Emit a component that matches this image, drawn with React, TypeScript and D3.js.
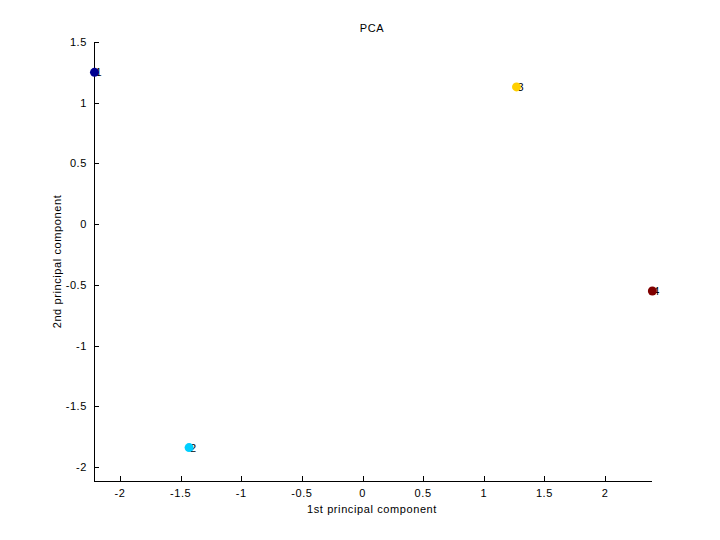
import React from "react";
import * as d3 from "d3";

const labels = ["1", "2", "3", "4"];
const pc1 = [-2.21, -1.43, 1.27, 2.39];
const pc2 = [1.25, -1.84, 1.13, -0.55];
const colors = ["#000090", "#00CFFF", "#FFCF00", "#800000"];
const xTicks = [-2, -1.5, -1, -0.5, 0, 0.5, 1, 1.5, 2];
const yTicks = [-2, -1.5, -1, -0.5, 0, 0.5, 1, 1.5];

const W = 720, H = 540;
const L = 94, R = 652, T = 42, B = 481;

export default function App() {
  const x = d3.scaleLinear().domain([-2.214, 2.387]).range([L, R]);
  const y = d3.scaleLinear().domain([-2.115, 1.5]).range([B, T]);
  const font = "'Liberation Sans', Arial, Helvetica, sans-serif";
  const fs = 11;
  const ls = 0.6;
  return (
    <div style={{ position: "fixed", left: 0, top: 0 }}>
      <svg width={W} height={H} style={{ display: "block", background: "#fff" }} fontFamily={font}>
        <rect x={0} y={0} width={W} height={H} fill="#fff" />
        <line x1={L} x2={R} y1={B + 0.5} y2={B + 0.5} stroke="#000" />
        <line x1={L + 0.5} x2={L + 0.5} y1={T} y2={B} stroke="#000" />
        {xTicks.map((t) => (
          <g key={"x" + t}>
            <line x1={Math.round(x(t)) + 0.5} x2={Math.round(x(t)) + 0.5} y1={B} y2={B - 5} stroke="#000" />
            <text x={x(t)} y={B + 16} fontSize={fs} letterSpacing={ls} textAnchor="middle">{t}</text>
          </g>
        ))}
        {yTicks.map((t) => (
          <g key={"y" + t}>
            <line x1={L} x2={L + 5} y1={Math.round(y(t)) + 0.5} y2={Math.round(y(t)) + 0.5} stroke="#000" />
            <text x={L - 7} y={y(t) + 4} fontSize={fs} letterSpacing={ls} textAnchor="end">{t}</text>
          </g>
        ))}
        {pc1.map((v, i) => (
          <text key={"l" + i} x={x(v) + 1} y={y(pc2[i]) + 4} fontSize={fs}>{labels[i]}</text>
        ))}
        {pc1.map((v, i) => (
          <circle key={"p" + i} cx={x(v)} cy={y(pc2[i])} r={4.5} fill={colors[i]} />
        ))}
        <text x={372} y={32} fontSize={fs} letterSpacing={ls} textAnchor="middle">PCA</text>
        <text x={372} y={513} fontSize={fs} letterSpacing={ls} textAnchor="middle">1st principal component</text>
        <text transform={`translate(61, ${(T + B) / 2}) rotate(-90)`} fontSize={fs} letterSpacing={ls} textAnchor="middle">2nd principal component</text>
      </svg>
    </div>
  );
}
